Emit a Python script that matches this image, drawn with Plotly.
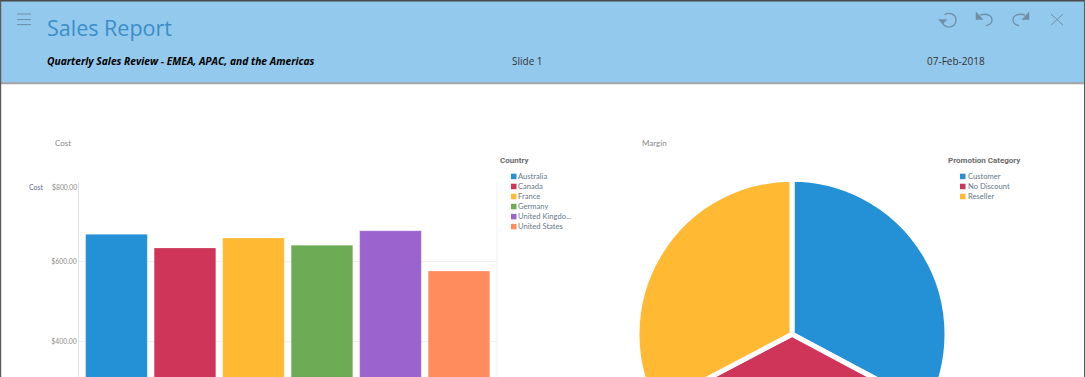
import plotly.graph_objects as go

# ---- data ----
countries = ["Australia", "Canada", "France", "Germany", "United Kingdom", "United States"]
country_labels = ["Australia", "Canada", "France", "Germany", "United Kingdo...", "United States"]
cost_values = [668, 634, 659, 641, 677, 576]
country_colors = ["#2490D6", "#CF3559", "#FFB933", "#6DAB54", "#9B63CD", "#FF8C5C"]

promo_categories = ["Customer", "No Discount", "Reseller"]
margin_values = [32.8, 34.5, 32.7]
promo_colors = ["#2490D6", "#CF3559", "#FFB933"]

cost_ticks = [400, 600, 800]
cost_tick_labels = ["$400.00", "$600.00", ""]

W, H = 1085, 521.5
HP = 520  # height the paper coordinates are laid out against
FONT = "Open Sans, Noto Sans, sans-serif"
SMALL = "Lato, Roboto, sans-serif"
BOLD = "Roboto, sans-serif"
ICON = "#6F8EA8"


def px(x):
    return x / W


def py(y):
    return 1 - y / HP


def P(*cmds):
    """Build an SVG path in paper coordinates from page-pixel tuples."""
    out = []
    for c in cmds:
        if isinstance(c, str):
            out.append(c)
        else:
            out.append(f"{px(c[0]):.5f},{py(c[1]):.5f}")
    return " ".join(out)


def rect(x0, y0, x1, y1, fill, layer="below", line=None):
    return dict(type="rect", xref="paper", yref="paper", x0=px(x0), x1=px(x1), y0=py(y0), y1=py(y1),
                fillcolor=fill, line=dict(width=0) if line is None else line, layer=layer)


def seg(x0, y0, x1, y1, color, width=1, layer="above"):
    return dict(type="line", xref="paper", yref="paper", x0=px(x0), x1=px(x1), y0=py(y0), y1=py(y1),
                line=dict(color=color, width=width), layer=layer)


def path(d, color, width=1.3, fill=None):
    return dict(type="path", xref="paper", yref="paper", path=d, layer="above",
                line=dict(color=color, width=width), fillcolor=fill or "rgba(0,0,0,0)")


def text(x, y, s, size=8, color="#888888", anchor="left", family=SMALL, **font):
    return dict(xref="paper", yref="paper", x=px(x), y=py(y), text=s, showarrow=False, xanchor=anchor,
                yanchor="middle", align=anchor, borderpad=0, borderwidth=0,
                font=dict(family=family, size=size, color=color, **font))


fig = go.Figure()
fig.add_trace(go.Bar(
    x=countries, y=cost_values, marker=dict(color=country_colors, line=dict(color="rgba(255,255,255,0.25)", width=1)),
    showlegend=False, hoverinfo="skip",
))
fig.add_trace(go.Pie(
    labels=promo_categories, values=margin_values, sort=False, direction="clockwise", rotation=0,
    marker=dict(colors=promo_colors, line=dict(color="#FFFFFF", width=5)),
    textinfo="none", showlegend=False, hoverinfo="skip",
    domain=dict(x=[px(637), px(947)], y=[py(488), py(178)]),
))

shapes = [
    rect(0, 0, 1085, 84, "#A3A3A3"),
    rect(0, 0, 1085, 82, "#93C9EC"),
    seg(497, 181, 497, 499, "#F0F0F0", layer="below"),
    seg(17, 14, 31, 14, ICON), seg(17, 19.5, 31, 19.5, ICON), seg(17, 24.5, 31, 24.5, ICON),
    # reset
    path(P("M", (944.5, 14.6), "C", (948, 12), (956, 13.5), (956, 20), "C", (956, 25), (952, 27), (949, 27),
           "C", (946, 27), (943.5, 25.5), (942.2, 22.5)), ICON),
    path(P("M", (938.5, 19.5), "L", (947, 19.5), "L", (942.7, 24), "Z"), ICON, 0.5, ICON),
    # undo
    path(P("M", (980, 15), "C", (986, 13), (992, 15), (992, 20), "C", (992, 23), (989, 25), (986, 25.5)), ICON),
    path(P("M", (976, 12), "L", (983, 19.5), "L", (976, 19.5), "Z"), ICON, 0.5, ICON),
    # redo
    path(P("M", (1025, 15), "C", (1019, 13), (1013, 15), (1013, 20), "C", (1013, 23), (1016, 25), (1019, 25.5)), ICON),
    path(P("M", (1029, 12), "L", (1022, 19.5), "L", (1029, 19.5), "Z"), ICON, 0.5, ICON),
    # close
    seg(1051, 14, 1063, 25, ICON), seg(1063, 14, 1051, 25, ICON),
]

annotations = [
    text(47, 27.5, "Sales Report", 21.5, "#3C8DC8", family=FONT),
    text(47, 61, "Quarterly Sales Review - EMEA, APAC, and the Americas", 10.25, "#000000", family=FONT,
         weight="bold", style="italic"),
    text(527, 61, "Slide 1", 10, "#333333", "center", family=FONT),
    text(955.5, 61, "07-Feb-2018", 10, "#333333", "center", family=FONT),
    text(55, 142.5, "Cost", 8, "#8A8A8A"),
    text(642, 142.5, "Margin", 8, "#8A8A8A"),
    text(36, 186.5, "Cost", 7, "#5A7185", "center"),
    text(77, 186.2, "$800.00", 6.8, "#8A8A8A", "right"),
    text(500, 159.5, "Country", 8, "#6B6B6B", family=BOLD, weight="bold"),
    text(948, 159.5, "Promotion Category", 8, "#6B6B6B", family=BOLD, weight="bold"),
]

for i, (lab, col) in enumerate(zip(country_labels, country_colors)):
    y = 176 + 10 * i
    shapes.append(rect(511, y - 3, 516.5, y + 2.5, col))
    annotations.append(text(518, y - 0.6, lab, 7.6, "#66798A"))

for i, (lab, col) in enumerate(zip(promo_categories, promo_colors)):
    y = 176 + 10 * i
    shapes.append(rect(960, y - 3, 965.5, y + 2.5, col))
    annotations.append(text(967.5, y - 0.6, lab, 7.6, "#66798A"))

# page frame, drawn last so it sits over the marks at the window edge
shapes += [
    rect(0, 0, 1085, 1.5, "#4A4A4A", "above"),
    rect(0, 375.5, 1085, 377, "#4A4A4A", "above"),
    rect(0, 0, 1.2, 377, "#5A5A5A", "above"),
    rect(1084, 0, 1085, 377, "#5A5A5A", "above"),
]

fig.update_layout(
    width=W, height=H, margin=dict(l=0, r=0, t=0, b=0), autosize=False,
    paper_bgcolor="#FFFFFF", plot_bgcolor="#FFFFFF", bargap=0.1,
    xaxis=dict(domain=[px(79), px(497)], range=[-0.547, 5.555], showticklabels=False, ticks="",
               showgrid=False, zeroline=False, showline=False, type="category",
               categoryorder="array", categoryarray=countries),
    yaxis=dict(domain=[py(499), py(181)], range=[0, 800], tickmode="array", tickvals=cost_ticks,
               ticktext=cost_tick_labels, showgrid=True, gridcolor="#F0F0F0", gridwidth=1, zeroline=False,
               showline=True, linecolor="#E2E2E2", linewidth=1, ticks="", ticklen=0,
               tickfont=dict(family=SMALL, size=6.8, color="#8A8A8A")),
    shapes=shapes, annotations=annotations, hovermode=False,
)

fig.write_html(
    "out.html",
    config=dict(displayModeBar=False, staticPlot=True),
    post_script="document.documentElement.style.overflow='hidden';document.body.style.overflow='hidden';document.body.style.margin='0';",
)
